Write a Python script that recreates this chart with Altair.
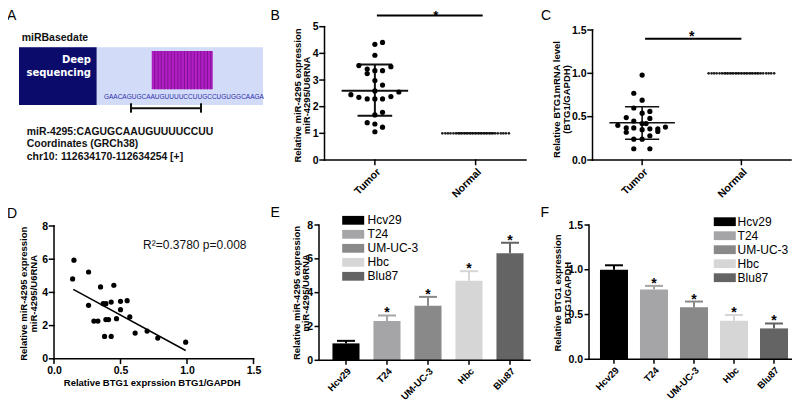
import altair as alt
import pandas as pd

FONT = "Liberation Sans, Arial, Helvetica, sans-serif"
W, H = 784, 393
TICK = 4.5

# ---------------- Panel A : miRBase schematic (schematic units) ----------------
a_rect_x = [0, 0, 54.4]
a_rect_x2 = [100, 31.8, 79.4]
a_rect_y = [0, 0, 6.4]
a_rect_y2 = [100, 100, 72.8]
a_rect_fill = ["#d2dbf8", "#0b0b6c", "#b11ec3"]
a_stripes = [55.6, 57.0, 58.3, 59.7, 61.0, 62.4, 63.7, 65.1, 66.4, 67.8,
             69.1, 70.5, 71.8, 73.2, 74.5, 75.9, 77.2, 78.6]
a_stripe_y = [6.4, 72.8]
a_bracket_x = [45.9, 74.6]
a_bracket_y = 105.7
a_cap_y = [97.0, 113.3]
a_seq = "GAACAGUGCAAUGUUUUCCUUGCCUGUGGCAAGA"
a_lines = ["miR-4295:CAGUGCAAUGUUUUCCUU", "Coordinates (GRCh38)",
           "chr10: 112634170-112634254 [+]"]
a_lines_y = [146.8, 168.0, 189.6]

# ---------------- Panel B : miR-4295 tumor vs normal ----------------
b_tumor_y = [4.34, 4.41, 3.93, 3.54, 3.41, 3.35, 3.35, 3.50, 3.24, 2.98, 2.81, 2.59,
             2.55, 2.45, 2.35, 2.29, 2.29, 2.29, 2.38, 1.79, 1.69, 1.40, 1.35, 1.23, 1.06]
b_tumor_dx = [0.0, 0.076, 0.0, -0.159, -0.076, 0.0, 0.076, 0.159, -0.076, 0.0, 0.076, 0.0,
              0.238, -0.238, -0.159, -0.076, 0.0, 0.076, 0.159, 0.076, 0.0, -0.076, 0.0, 0.076, 0.0]
b_mean, b_sd_hi, b_sd_lo = 2.60, 3.58, 1.66
b_normal_y = 1.0
b_sig = [0.52, 1.57, 5.42]

# ---------------- Panel C : BTG1 tumor vs normal ----------------
c_tumor_y = [0.98, 0.77, 0.69, 0.60, 0.56, 0.54, 0.49, 0.48, 0.45, 0.42, 0.42, 0.40, 0.37,
             0.37, 0.36, 0.36, 0.38, 0.32, 0.35, 0.33, 0.28, 0.24, 0.24, 0.13, 0.13]
c_tumor_dx = [0.0, -0.084, 0.0, -0.084, 0.078, 0.0, -0.16, 0.078, -0.084, 0.0, 0.04, -0.245,
              -0.16, -0.084, 0.078, 0.158, 0.235, -0.16, 0.0, 0.158, 0.078, -0.084, 0.0, -0.084, 0.078]
c_mean, c_sd_hi, c_sd_lo = 0.43, 0.615, 0.24
c_normal_y = 1.0
c_sig = [0.53, 1.50, 1.40]

normal_dx = [-0.33, -0.30, -0.275, -0.25, -0.22, -0.195, -0.165, -0.14, -0.11, -0.085, -0.055,
             -0.03, 0.0, 0.03, 0.055, 0.085, 0.11, 0.14, 0.165, 0.195, 0.22, 0.25, 0.275, 0.30, 0.33]

# ---------------- Panel D : correlation ----------------
d_x = [0.15, 0.14, 0.26, 0.26, 0.35, 0.45, 0.37, 0.39, 0.43, 0.50, 0.55, 0.50,
       0.30, 0.33, 0.39, 0.41, 0.47, 0.57, 0.38, 0.43, 0.61, 0.70, 0.78, 0.99]
d_y = [5.94, 4.81, 5.23, 3.22, 4.33, 4.43, 3.32, 3.32, 3.42, 3.46, 3.50, 2.96,
       2.27, 2.27, 2.36, 2.36, 2.42, 2.52, 1.35, 1.35, 1.55, 1.67, 1.25, 1.00]
d_fit_x = [0.145, 0.99]
d_fit_y = [4.18, 0.50]
d_note = "R\u00b2=0.3780  p=0.008"

# ---------------- Panels E, F : cell lines ----------------
cells = ["Hcv29", "T24", "UM-UC-3", "Hbc", "Blu87"]
cell_colors = ["#000000", "#a5a5a8", "#898989", "#d6d6d6", "#646464"]
e_mean = [1.00, 2.32, 3.22, 4.70, 6.33]
e_err = [0.15, 0.33, 0.53, 0.57, 0.62]
f_mean = [1.00, 0.78, 0.58, 0.43, 0.345]
f_err = [0.05, 0.04, 0.065, 0.065, 0.055]
stars = ["", "*", "*", "*", "*"]

# ======================================================================
TUMOR, NORMAL = 0.5, 1.5
Y_TITLE_STYLE = dict(titleAngle=270, titleAlign="center", titleBaseline="top", titleLineHeight=9.5)


def qs(dom, rng):
    return alt.Scale(domain=dom, range=rng, nice=False, zero=False)


def yaxis(offset, values, fmt, title, tx, ty):
    return alt.Axis(orient="left", offset=offset, values=values, format=fmt, title=title,
                    titleX=tx, titleY=ty, **Y_TITLE_STYLE)


def quant_frame(X, Y, xdom, xr, ydom, yr, xticks, yticks):
    """Axis lines and outward ticks, drawn in data units of the panel."""
    tx = TICK * (xdom[1] - xdom[0]) / (xr[1] - xr[0])
    ty = TICK * (ydom[1] - ydom[0]) / (yr[0] - yr[1])
    rows = [(xdom[0], xdom[1], ydom[0], ydom[0]), (xdom[0], xdom[0], ydom[0], ydom[1])]
    rows += [(xdom[0] - tx, xdom[0], v, v) for v in yticks]
    rows += [(v, v, ydom[0] - ty, ydom[0]) for v in xticks]
    df = pd.DataFrame(rows, columns=["x", "x2", "y", "y2"])
    return alt.Chart(df).mark_rule(color="black", strokeWidth=1.5, strokeCap="square").encode(
        x=X, x2="x2:Q", y=Y, y2="y2:Q")


# ---------- Panel A ----------
ax = qs([0, 100], [11, 255])
ay = qs([0, 100], [39.3, 97])


def AX():
    return alt.X("x:Q", scale=ax, axis=None)


def AY():
    return alt.Y("y:Q", scale=ay, axis=None)


a_rects = alt.Chart(pd.DataFrame({"x": a_rect_x, "x2": a_rect_x2, "y": a_rect_y,
                                  "y2": a_rect_y2, "fill": a_rect_fill})).mark_rect().encode(
    x=AX(), x2="x2:Q", y=AY(), y2="y2:Q", fill=alt.Fill("fill:N", scale=None))
a_str = alt.Chart(pd.DataFrame({"x": a_stripes, "y": [a_stripe_y[0]] * len(a_stripes),
                                "y2": [a_stripe_y[1]] * len(a_stripes)})).mark_rule(
    color="#7e1190", strokeWidth=0.9).encode(x=AX(), y=AY(), y2="y2:Q")
a_br = alt.Chart(pd.DataFrame({
    "x": [a_bracket_x[0], a_bracket_x[0], a_bracket_x[1]],
    "x2": [a_bracket_x[1], a_bracket_x[0], a_bracket_x[1]],
    "y": [a_bracket_y, a_cap_y[0], a_cap_y[0]],
    "y2": [a_bracket_y, a_cap_y[1], a_cap_y[1]]})).mark_rule(color="#111", strokeWidth=2).encode(
    x=AX(), x2="x2:Q", y=AY(), y2="y2:Q")
a_seq_t = alt.Chart(pd.DataFrame({"x": [34.8], "y": [85.6], "t": [a_seq]})).mark_text(
    font=FONT, fontSize=6.5, color="#2e2eaa", align="left", baseline="middle").encode(
    x=AX(), y=AY(), text="t:N")
a_deep = alt.Chart(pd.DataFrame({"x": [29.5, 29.5], "y": [22, 44.5],
                                 "t": ["Deep", "sequencing"]})).mark_text(
    font="DejaVu Sans", fontSize=10, fontWeight="bold", color="white", align="right",
    baseline="middle").encode(x=AX(), y=AY(), text="t:N")
a_head = alt.Chart(pd.DataFrame({"x": [1.1], "y": [-16], "t": ["miRBasedate"]})).mark_text(
    font=FONT, fontSize=10.5, fontWeight="bold", color="#111", align="left",
    baseline="middle").encode(x=AX(), y=AY(), text="t:N")
a_txt = alt.Chart(pd.DataFrame({"x": [3.2] * 3, "y": a_lines_y, "t": a_lines})).mark_text(
    font=FONT, fontSize=10.4, fontWeight="bold", color="#111", align="left",
    baseline="middle").encode(x=AX(), y=AY(), text="t:N")
panelA = alt.layer(a_rects, a_str, a_seq_t, a_deep, a_br, a_head, a_txt)


# ---------- Panels B and C (scatter dot plots) ----------
def dot_panel(xr, yr, ydom, yvals, yfmt, ytitle, ttx, tty, tumor_y, tumor_dx,
              mean, sd_hi, sd_lo, normal_y, sig, lw, star_dx, star_dy, star_size):
    xdom = [0, 2]
    xs = qs(xdom, xr)
    ys = qs(ydom, yr)
    xaxis = alt.Axis(orient="bottom", offset=yr[0] - H, values=[TUMOR, NORMAL],
                     labelExpr="datum.value < 1 ? 'Tumor' : 'Normal'", labelAngle=315, title=None)
    ya = yaxis(-xr[0], yvals, yfmt, ytitle, ttx, tty)
    X = alt.X("x:Q", scale=xs, axis=xaxis)
    Y = alt.Y("y:Q", scale=ys, axis=ya)
    frame = quant_frame(X, Y, xdom, xr, ydom, yr, [TUMOR, NORMAL], yvals)
    pts = alt.Chart(pd.DataFrame({"x": [TUMOR + d for d in tumor_dx], "y": tumor_y})).mark_circle(
        size=27, color="black", opacity=1).encode(x=X, y=Y)
    nor = alt.Chart(pd.DataFrame({"x": [NORMAL + d for d in normal_dx],
                                  "y": [normal_y] * len(normal_dx)})).mark_circle(
        size=7, color="#222", opacity=1).encode(x=X, y=Y)
    rules = pd.DataFrame({
        "x": [TUMOR - 0.33, TUMOR - 0.172, TUMOR - 0.172, TUMOR, NORMAL - 0.19],
        "x2": [TUMOR + 0.33, TUMOR + 0.172, TUMOR + 0.172, TUMOR, NORMAL + 0.19],
        "y": [mean, sd_hi, sd_lo, sd_lo, normal_y],
        "y2": [mean, sd_hi, sd_lo, sd_hi, normal_y]})
    r = alt.Chart(rules).mark_rule(color="#111", strokeWidth=lw).encode(
        x=X, x2="x2:Q", y=Y, y2="y2:Q")
    sig_df = pd.DataFrame({"x": [sig[0]], "x2": [sig[1]], "y": [sig[2]]})
    sb = alt.Chart(sig_df).mark_rule(color="black", strokeWidth=2).encode(x=X, x2="x2:Q", y=Y)
    st = alt.Chart(pd.DataFrame({"x": [(sig[0] + sig[1]) / 2], "y": [sig[2]], "t": ["*"]})).mark_text(
        font=FONT, fontSize=star_size, fontWeight="bold", color="black", baseline="alphabetic",
        dy=star_dy, dx=star_dx).encode(x=X, y=Y, text="t:N")
    return alt.layer(frame, nor, r, pts, sb, st)


panelB = dot_panel([316.5, 518], [152, 18.7], [0, 5], [0, 1, 2, 3, 4, 5], "d",
                   ["Relative miR-4295 expression", "miR-4295/U6RNA"], -32.3, 87,
                   b_tumor_y, b_tumor_dx, b_mean, b_sd_hi, b_sd_lo,
                   b_normal_y, b_sig, 2, 6, 4.5, 13)
panelC = dot_panel([584.5, 783], [152, 22], [0, 1.5], [0, 0.5, 1, 1.5], ".1f",
                   ["Relative BTG1mRNA level", "(BTG1/GAPDH)"], -41, 91,
                   c_tumor_y, c_tumor_dx, c_mean, c_sd_hi, c_sd_lo,
                   c_normal_y, c_sig, 1.6, -1.5, 2, 14)

# ---------- Panel D ----------
d_xdom, d_xr = [0, 1.5], [46, 245.5]
d_ydom, d_yr = [0, 8], [350.8, 218]
d_xticks, d_yticks = [0, 0.5, 1, 1.5], [0, 2, 4, 6, 8]
DX = alt.X("x:Q", scale=qs(d_xdom, d_xr),
           axis=alt.Axis(orient="bottom", offset=d_yr[0] - H, values=d_xticks, format=".1f",
                         title="Relative BTG1 exprssion BTG1/GAPDH",
                         titleX=143.7, titleY=24, titleBaseline="middle"))
DY = alt.Y("y:Q", scale=qs(d_ydom, d_yr),
           axis=yaxis(-d_xr[0], d_yticks, "d",
                      ["Relative miR-4295 expression", "miR-4295/U6RNA"], -35.2, 285.3))
d_frame = quant_frame(DX, DY, d_xdom, d_xr, d_ydom, d_yr, d_xticks, d_yticks)
d_pts = alt.Chart(pd.DataFrame({"x": d_x, "y": d_y})).mark_circle(
    size=27, color="black", opacity=1).encode(x=DX, y=DY)
d_line = alt.Chart(pd.DataFrame({"x": d_fit_x, "y": d_fit_y})).mark_line(
    color="black", strokeWidth=1.5).encode(x=DX, y=DY)
d_txt = alt.Chart(pd.DataFrame({"x": [0.67], "y": [6.86], "t": [d_note]})).mark_text(
    font=FONT, fontSize=12, color="#111", align="left", baseline="middle").encode(
    x=DX, y=DY, text="t:N")
panelD = alt.layer(d_frame, d_pts, d_line, d_txt)


# ---------- Panels E and F (bars) ----------
def bar_panel(xr, pin, pout, algn, yr, ydom, yvals, yfmt, ytitle, ttx, tty,
              means, errs, lx, ly, loff):
    tops = [m + e for m, e in zip(means, errs)]
    df = pd.DataFrame({"cat": cells, "y": means, "y2": tops, "col": cell_colors})
    tops_df = pd.DataFrame({"cat": cells, "y": tops, "col": cell_colors, "t": stars})
    xs = alt.Scale(domain=cells, range=xr, paddingInner=pin, paddingOuter=pout, align=algn)
    ys = qs(ydom, yr)
    X = alt.X("cat:N", scale=xs, axis=alt.Axis(orient="bottom", offset=yr[0] - H, labelAngle=315,
                                               labelFontSize=9.6, labelPadding=1, title=None))
    Y = alt.Y("y:Q", scale=ys, axis=yaxis(-xr[0], yvals, yfmt, ytitle, ttx, tty))
    ty = TICK * (ydom[1] - ydom[0]) / (yr[0] - yr[1])
    # axis lines: baseline across the band range, vertical line at range start, ticks
    base = alt.Chart(pd.DataFrame({"y": [ydom[0]]})).mark_rule(
        color="black", strokeWidth=1.5, strokeCap="square").encode(
        x=alt.value(xr[0]), x2=alt.value(xr[1]), y=Y)
    vline = alt.Chart(pd.DataFrame({"y": [ydom[0]], "y2": [ydom[1]]})).mark_rule(
        color="black", strokeWidth=1.5, strokeCap="square").encode(
        x=alt.value(xr[0]), y=Y, y2="y2:Q")
    yt = alt.Chart(pd.DataFrame({"y": yvals})).mark_rule(color="black", strokeWidth=1.5).encode(
        x=alt.value(xr[0] - TICK), x2=alt.value(xr[0]), y=Y)
    xt = alt.Chart(pd.DataFrame({"cat": cells, "y": [ydom[0] - ty] * len(cells),
                                 "y2": [ydom[0]] * len(cells)})).mark_rule(
        color="black", strokeWidth=1.5).encode(x=X, y=Y, y2="y2:Q")
    bars = alt.Chart(df).mark_bar(opacity=1).encode(
        x=X, y=Y, y2=alt.Y2(datum=0),
        color=alt.Color("cat:N", scale=alt.Scale(domain=cells, range=cell_colors),
                        legend=alt.Legend(orient="none", legendX=lx, legendY=ly, title=None,
                                          symbolType="M-2,-0.8H2V0.8H-2Z", symbolSize=121,
                                          symbolStrokeWidth=0, symbolOpacity=1,
                                          labelFont=FONT, labelFontSize=12, labelColor="black",
                                          labelOffset=loff, rowPadding=2, padding=0)))
    err = alt.Chart(df).mark_rule(strokeWidth=2).encode(
        x=X, y=Y, y2="y2:Q", color=alt.Color("col:N", scale=None))
    cap = alt.Chart(tops_df).mark_tick(size=18, thickness=2, opacity=1).encode(
        x=X, y=Y, color=alt.Color("col:N", scale=None))
    st = alt.Chart(tops_df).mark_text(font=FONT, fontSize=14, fontWeight="bold", color="black",
                                      baseline="alphabetic", dy=2).encode(x=X, y=Y, text="t:N")
    return alt.layer(err, cap, bars, base, vline, yt, xt, st)


panelE = bar_panel([311, 522], 0.34, 0.243, 0.675, [352.3, 217], [0, 8], [0, 2, 4, 6, 8], "d",
                   ["Relative miR-4295 expression", "miR-4295/U6RNA"], -28, 284.5,
                   e_mean, e_err, 339.2, 206.3, 8.4)
panelF = bar_panel([581, 787], 0.30, 0.225, 0.61, [351.3, 217], [0, 1.5], [0, 0.5, 1, 1.5], ".1f",
                   ["Relative BTG1 expression", "BTG1/GAPDH"], -36.2, 284.5,
                   f_mean, f_err, 710.8, 207.7, 6.8)

# ---------- panel letters ----------
letters = ["A", "B", "C", "D", "E", "F"]
letter_pos = [(-1, 12), (262.6, 12), (533, 12), (-1, 210.3), (262.6, 208.7), (532.6, 208.7)]
letter_layers = [
    alt.Chart(pd.DataFrame({"t": [l]})).mark_text(
        font=FONT, fontSize=14, color="black", align="left", baseline="alphabetic").encode(
        x=alt.value(p[0]), y=alt.value(p[1]), text="t:N")
    for l, p in zip(letters, letter_pos)
]

chart = alt.layer(panelA, panelB, panelC, panelD, panelE, panelF, *letter_layers).resolve_scale(
    x="independent", y="independent", color="independent"
).resolve_axis(x="independent", y="independent").resolve_legend(color="independent").properties(
    width=W, height=H, autosize=alt.AutoSizeParams(type="none"), padding=0
).configure_view(stroke=None).configure_axis(
    grid=False, domain=False, ticks=True, tickOpacity=0, tickSize=TICK,
    labelFont=FONT, labelFontSize=10.5, labelFontWeight="bold",
    labelColor="black", labelPadding=2, labelFlush=False, labelOverlap=False,
    titleFont=FONT, titleFontSize=9.5, titleFontWeight="bold", titleColor="black"
)

chart.save("out.html", embed_options={"renderer": "svg", "actions": False})
